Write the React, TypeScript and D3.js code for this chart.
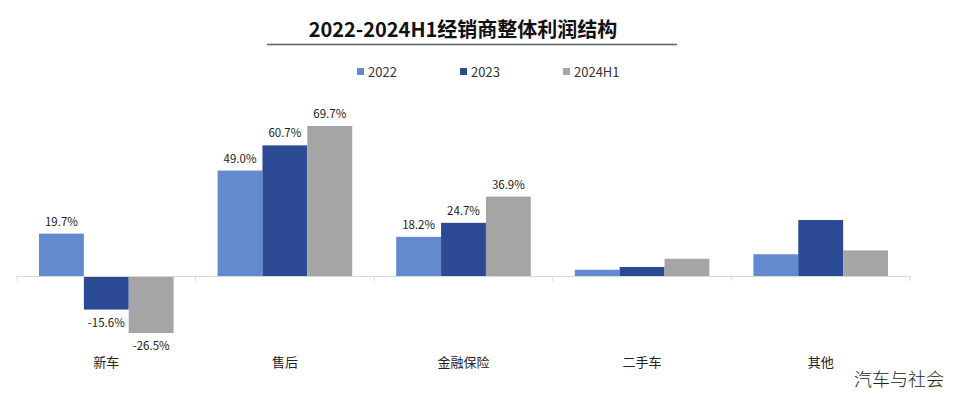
import React from "react";
import * as d3 from "d3";

const categories = ["新车", "售后", "金融保险", "二手车", "其他"];
const seriesNames = ["2022", "2023", "2024H1"];
const values2022 = [19.7, 49.0, 18.2, 2.9, 10.1];
const values2023 = [-15.6, 60.7, 24.7, 4.2, 26.0];
const values2024H1 = [-26.5, 69.7, 36.9, 8.0, 11.9];
const labeledCategories = ["新车", "售后", "金融保险"];
const colors = ["#6389CF", "#2B4A93", "#A5A5A5"];

const W = 957;
const H = 396;

export default function App() {
  const seriesValues = [values2022, values2023, values2024H1];
  const x0 = d3.scaleBand<string>().domain(categories).range([17, 910]).paddingInner(0).paddingOuter(0);
  const bw = x0.bandwidth();
  const x1 = d3.scaleBand<string>().domain(seriesNames).range([22, bw - 22]).padding(0);
  const y = d3.scaleLinear().domain([-30, 80]).range([276 + 30 * 2.152, 276 - 80 * 2.152]);
  const y0 = y(0);
  const font = "'Noto Sans CJK SC', 'Noto Sans', sans-serif";

  const legendX = [357, 460, 563];

  return (
    <svg width={W} height={H} style={{ position: "absolute", left: 0, top: 0, background: "#fff" }} fontFamily={font}>
      <rect x={0} y={0} width={W} height={H} fill="#fff" />
      <text x={463} y={37} textAnchor="middle" fontSize={20} fontWeight="bold" fill="#111">
        2022-2024H1经销商整体利润结构
      </text>
      <line x1={267} x2={677} y1={44.5} y2={44.5} stroke="#5a6068" strokeWidth={1.5} />

      {seriesNames.map((s, i) => (
        <g key={s}>
          <rect x={legendX[i]} y={68} width={7} height={7} fill={colors[i]} />
          <text x={legendX[i] + 11} y={77} fontSize={13} fill="#333">{s}</text>
        </g>
      ))}

      {categories.map((c, ci) => (
        <g key={c} transform={`translate(${x0(c)},0)`}>
          {seriesNames.map((s, si) => {
            const v = seriesValues[si][ci];
            const yTop = Math.min(y(v), y0);
            const h = Math.abs(y(v) - y0);
            return (
              <rect key={s} x={x1(s)} y={yTop} width={x1.bandwidth()} height={h} fill={colors[si]} />
            );
          })}
          {labeledCategories.includes(c) &&
            seriesNames.map((s, si) => {
              const v = seriesValues[si][ci];
              const cx = (x1(s) as number) + x1.bandwidth() / 2;
              const ty = v >= 0 ? y(v) - 8 : y(v) + 17;
              return (
                <text key={s} x={cx} y={ty} textAnchor="middle" fontSize={11.5} fill="#222">
                  {v.toFixed(1)}%
                </text>
              );
            })}
          <text x={bw / 2} y={367} textAnchor="middle" fontSize={13} fill="#222">{c}</text>
        </g>
      ))}

      <line x1={17} x2={910} y1={y0 + 0.5} y2={y0 + 0.5} stroke="#d9d9d9" strokeWidth={1} />
      {d3.range(categories.length + 1).map((i) => {
        const xx = 17 + i * bw;
        return <line key={i} x1={xx} x2={xx} y1={y0} y2={y0 + 5} stroke="#d9d9d9" strokeWidth={1} />;
      })}

      <text x={944} y={386} textAnchor="end" fontSize={18} fill="#222" fontWeight={300}>汽车与社会</text>
    </svg>
  );
}
